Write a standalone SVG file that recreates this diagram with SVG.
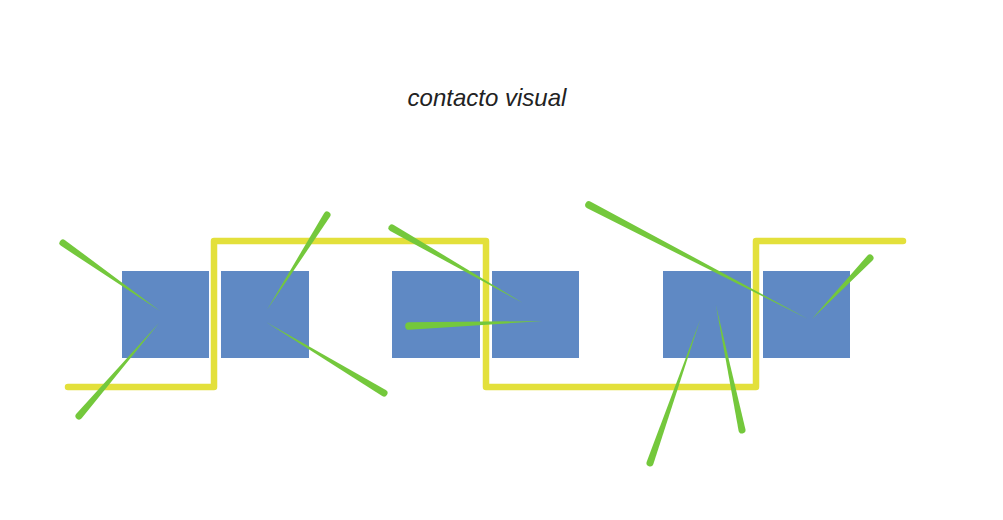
<svg xmlns="http://www.w3.org/2000/svg" width="1003" height="520" viewBox="0 0 1003 520">
<style>
.box{fill:#5f89c4}
.path{fill:none;stroke:#e3e03b;stroke-width:6.5;stroke-linejoin:round;stroke-linecap:round}
.gaze{fill:#74c83c}
.title{font-family:"Liberation Sans",Arial,sans-serif;font-style:italic;font-size:24px;fill:#222}
</style>
<rect width="1003" height="520" fill="#fff"/>
<text class="title" x="487" y="106" text-anchor="middle">contacto visual</text>
<g id="nodes">
<rect id="p1" class="box" x="122" y="271" width="87" height="87"/>
<rect id="p2" class="box" x="221" y="271" width="88" height="87"/>
<rect id="p3" class="box" x="392" y="271" width="88" height="87"/>
<rect id="p4" class="box" x="492" y="271" width="87" height="87"/>
<rect id="p5" class="box" x="663" y="271" width="88" height="87"/>
<rect id="p6" class="box" x="763" y="271" width="87" height="87"/>
</g>
<g id="connectors">
<polyline class="path" points="68,387 214,387 214,241 486,241 486,387 756,387 756,241 903,241"/>
<path class="gaze" transform="translate(63,243) rotate(35)" d="M0,-3.5 L118.5,0 L0,3.5 A3.5,3.5 0 0 1 0,-3.5Z"/>
<path class="gaze" transform="translate(79,416) rotate(-49.3)" d="M0,-3.5 L122.7,0 L0,3.5 A3.5,3.5 0 0 1 0,-3.5Z"/>
<path class="gaze" transform="translate(327,215) rotate(122.3)" d="M0,-3.5 L112.4,0 L0,3.5 A3.5,3.5 0 0 1 0,-3.5Z"/>
<path class="gaze" transform="translate(384,393) rotate(211)" d="M0,-3.5 L137.7,0 L0,3.5 A3.5,3.5 0 0 1 0,-3.5Z"/>
<path class="gaze" transform="translate(392,228) rotate(29.8)" d="M0,-3.5 L151,0 L0,3.5 A3.5,3.5 0 0 1 0,-3.5Z"/>
<path class="gaze" transform="translate(409,326) rotate(-2.1)" d="M0,-3.8 L134.1,0 L0,3.8 A3.8,3.8 0 0 1 0,-3.8Z"/>
<path class="gaze" transform="translate(589,205) rotate(27.5)" d="M0,-3.8 L246.9,0 L0,3.8 A3.8,3.8 0 0 1 0,-3.8Z"/>
<path class="gaze" transform="translate(870,258) rotate(133.6)" d="M0,-3.5 L84.2,0 L0,3.5 A3.5,3.5 0 0 1 0,-3.5Z"/>
<path class="gaze" transform="translate(650,463) rotate(-70.7)" d="M0,-3.5 L151.5,0 L0,3.5 A3.5,3.5 0 0 1 0,-3.5Z"/>
<path class="gaze" transform="translate(742,430) rotate(-101.8)" d="M0,-3.5 L127.7,0 L0,3.5 A3.5,3.5 0 0 1 0,-3.5Z"/>
</g>
</svg>
